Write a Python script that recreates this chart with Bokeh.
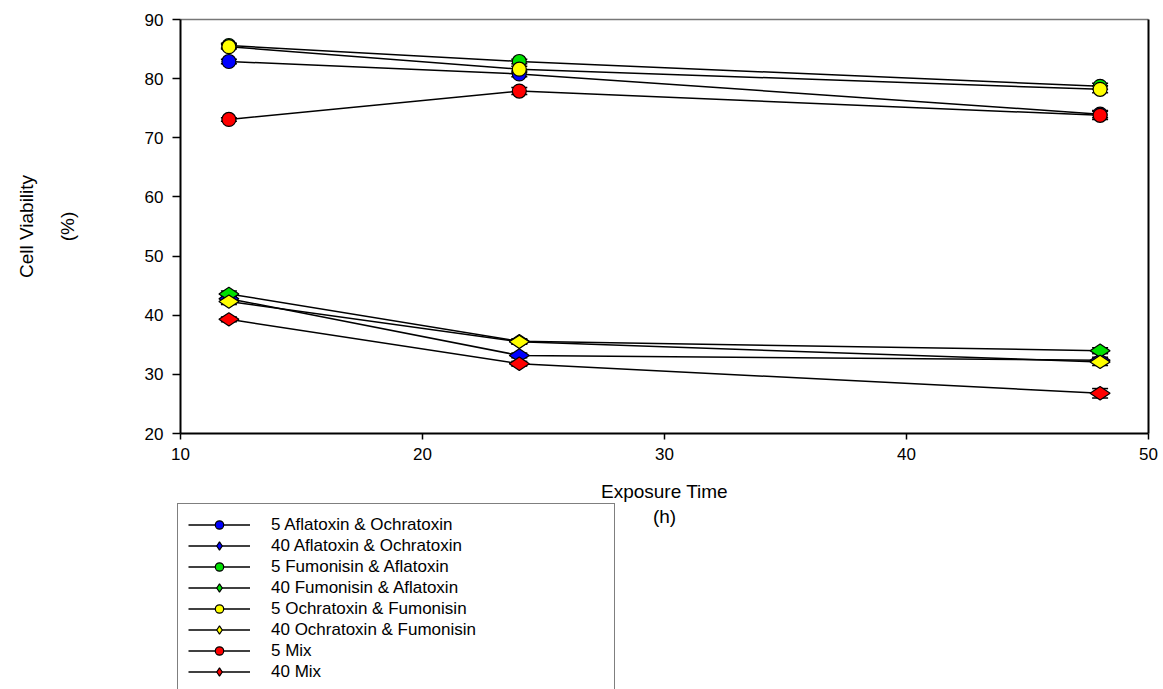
import math
from bokeh.plotting import figure
from bokeh.models import (Legend, LegendItem, Whisker, TeeHead, ColumnDataSource,
                          FixedTicker, LinearAxis, Label)
from bokeh.embed import file_html
from bokeh.resources import INLINE

# ---- data ----
hours = [12, 24, 48]
series_names = [
    "5 Aflatoxin & Ochratoxin", "40 Aflatoxin & Ochratoxin",
    "5 Fumonisin & Aflatoxin", "40 Fumonisin & Aflatoxin",
    "5 Ochratoxin & Fumonisin", "40 Ochratoxin & Fumonisin",
    "5 Mix", "40 Mix",
]
aflo_ochra_5 = [82.9, 80.8, 74.0]
aflo_ochra_40 = [42.8, 33.2, 32.4]
fumo_aflo_5 = [85.6, 82.9, 78.7]
fumo_aflo_40 = [43.6, 35.6, 34.0]
ochra_fumo_5 = [85.4, 81.6, 78.2]
ochra_fumo_40 = [42.3, 35.5, 32.1]
mix_5 = [73.1, 77.9, 73.8]
mix_40 = [39.3, 31.8, 26.8]

err_aflo_ochra_5 = [0.4, 0.5, 0.6]
err_aflo_ochra_40 = [0.4, 0.4, 0.5]
err_fumo_aflo_5 = [0.4, 0.4, 0.5]
err_fumo_aflo_40 = [0.5, 0.4, 0.5]
err_ochra_fumo_5 = [0.4, 0.5, 0.6]
err_ochra_fumo_40 = [0.5, 0.4, 0.6]
err_mix_5 = [0.3, 0.6, 0.7]
err_mix_40 = [0.4, 0.4, 0.8]

values = [aflo_ochra_5, aflo_ochra_40, fumo_aflo_5, fumo_aflo_40,
          ochra_fumo_5, ochra_fumo_40, mix_5, mix_40]
errors = [err_aflo_ochra_5, err_aflo_ochra_40, err_fumo_aflo_5, err_fumo_aflo_40,
          err_ochra_fumo_5, err_ochra_fumo_40, err_mix_5, err_mix_40]
colors = ["#0000ff", "#0000ff", "#00e000", "#00e000",
          "#ffff00", "#ffff00", "#ff0000", "#ff0000"]
markers = ["circle", "diamond"] * 4

x_min, x_max = 10, 50
y_min, y_max = 20, 90
x_ticks = [10, 20, 30, 40, 50]
y_ticks = [20, 30, 40, 50, 60, 70, 80, 90]
x_title = "Exposure Time"
x_unit = "(h)"
y_title = "Cell Viability"
y_unit = "(%)"

FONT = "Liberation Sans"

# ---- layout: the frame fills the whole page; the data box sits inside it ----
W, H = 1163, 689
BOX_L, BOX_R, BOX_T, BOX_B = 180, 1148, 19, 433      # data box in page pixels
px_x = (BOX_R - BOX_L) / (x_max - x_min)
px_y = (BOX_B - BOX_T) / (y_max - y_min)
xr = (x_min - BOX_L / px_x, x_max + (W - BOX_R) / px_x)
yr = (y_min - (H - BOX_B) / px_y, y_max + BOX_T / px_y)

p = figure(frame_width=W, frame_height=H, x_range=xr, y_range=yr,
           output_backend="svg", toolbar_location=None,
           x_axis_location=None, y_axis_location=None,
           min_border=0)
p.xgrid.visible = False
p.ygrid.visible = False
p.outline_line_color = None
p.background_fill_color = "white"
p.border_fill_color = "white"

xaxis = LinearAxis(ticker=FixedTicker(ticks=x_ticks), fixed_location=y_min,
                   bounds=(x_min, x_max))
yaxis = LinearAxis(ticker=FixedTicker(ticks=y_ticks), fixed_location=x_min,
                   bounds=(y_min, y_max))
for ax in (xaxis, yaxis):
    ax.axis_line_width = 2
    ax.axis_line_color = "black"
    ax.major_tick_line_color = "black"
    ax.major_tick_line_width = 1.5
    ax.major_tick_in = 0
    ax.minor_tick_line_color = None
    ax.major_label_text_font = FONT
    ax.major_label_text_font_size = "17px"
    ax.major_label_text_color = "black"
xaxis.major_tick_out = 6
yaxis.major_tick_out = 8
xaxis.major_label_standoff = 8
yaxis.major_label_standoff = 9
p.add_layout(xaxis, "below")
p.add_layout(yaxis, "left")

# frame top and right edges
top_edge = LinearAxis(fixed_location=y_max, bounds=(x_min, x_max),
                      ticker=FixedTicker(ticks=[]), major_label_text_font_size="0px",
                      axis_line_color="#777777", axis_line_width=1.5,
                      major_tick_line_color=None, minor_tick_line_color=None)
right_edge = LinearAxis(fixed_location=x_max, bounds=(y_min, y_max),
                        ticker=FixedTicker(ticks=[]), major_label_text_font_size="0px",
                        axis_line_color="black", axis_line_width=2,
                        major_tick_line_color=None, minor_tick_line_color=None)
p.add_layout(top_edge, "above")
p.add_layout(right_edge, "right")

# axis titles (screen units measured from the page's bottom-left)
box_cx = (BOX_L + BOX_R) / 2
box_cy = H - (BOX_T + BOX_B) / 2
for txt, sx, sy, ang in [(x_title, box_cx, H - 491, 0), (x_unit, box_cx, H - 516, 0),
                         (y_title, 26, box_cy, math.pi / 2), (y_unit, 67, box_cy, math.pi / 2)]:
    p.add_layout(Label(x=sx, y=sy, x_units="screen", y_units="screen", text=txt,
                       angle=ang, text_align="center", text_baseline="middle",
                       text_font=FONT, text_font_size="19px", text_color="black"))

items = []
for name, ys, es, c, m in zip(series_names, values, errors, colors, markers):
    src = ColumnDataSource(dict(x=hours, y=ys,
                                lo=[a - b for a, b in zip(ys, es)],
                                hi=[a + b for a, b in zip(ys, es)]))
    ln = p.line("x", "y", source=src, line_color="black", line_width=1.5)
    w = Whisker(base="x", lower="lo", upper="hi", source=src,
                line_color="black", line_width=1.5,
                upper_head=TeeHead(size=16, line_color="black", line_width=1.5),
                lower_head=TeeHead(size=16, line_color="black", line_width=1.5))
    p.add_layout(w)
    if m == "circle":
        sc = p.scatter("x", "y", source=src, marker="circle", size=14,
                       fill_color=c, line_color="black", line_width=1.2)
    else:
        sc = p.scatter("x", "y", source=src, marker="diamond", size=20,
                       angle=math.pi / 2,
                       fill_color=c, line_color="black", line_width=1.2)
    items.append(LegendItem(label=name, renderers=[ln, sc]))

legend = Legend(items=items, location=(177, -4), orientation="vertical",
                border_line_color="black", border_line_width=1.5,
                background_fill_color="white", background_fill_alpha=1.0,
                label_text_font=FONT, label_text_font_size="17px",
                label_text_color="black",
                glyph_width=62, glyph_height=21, label_height=21, label_width=333,
                spacing=0, padding=10, margin=0, label_standoff=21)
p.add_layout(legend)

open("out.html", "w").write(file_html(p, INLINE))
